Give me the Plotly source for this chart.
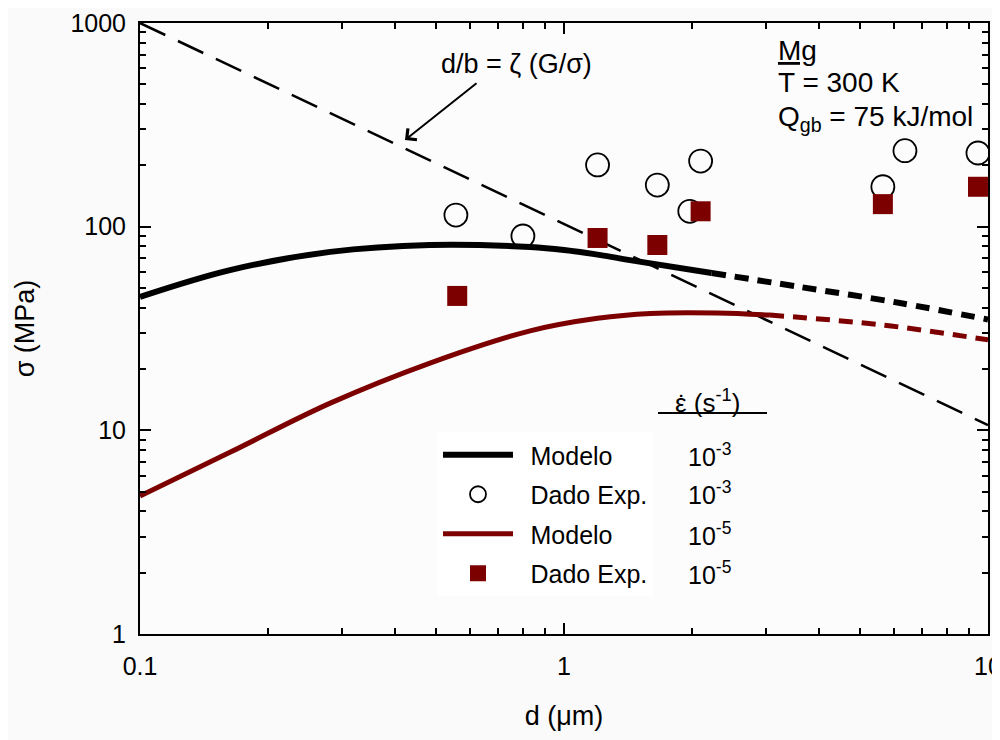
import plotly.graph_objects as go

# ---- data ----
# Model, strain rate 1e-3 (black): solid and dashed (extrapolated) parts
model3_solid_d = [0.1, 0.163, 0.281, 0.483, 0.832, 1.0, 1.22, 1.43, 2.23]
model3_solid_s = [45.2, 61.2, 75.2, 81.3, 79.4, 76.8, 72.5, 68.5, 59.2]
model3_dash_d = [2.23, 3.6, 6.2, 10]
model3_dash_s = [59.2, 50.6, 42.2, 35.0]

# Model, strain rate 1e-5 (dark red)
model5_solid_d = [0.1, 0.163, 0.281, 0.483, 0.832, 1.2, 1.6, 2.3, 3.06]
model5_solid_s = [4.76, 7.8, 13.6, 21.4, 30.8, 35.5, 37.5, 37.7, 36.8]
model5_dash_d = [3.06, 5.65, 10]
model5_dash_s = [36.8, 32.9, 27.8]

# Experimental data
exp3_d = [0.556, 0.80, 1.20, 1.66, 1.98, 2.10, 5.65, 6.37, 9.47]
exp3_s = [114, 90, 201, 160, 119, 210, 157, 236, 230]
exp5_d = [0.56, 1.20, 1.66, 2.10, 5.65, 9.47]
exp5_s = [45.7, 88, 81.3, 119, 129, 157]

# d/b = zeta (G/sigma) boundary line
bound_d = [0.1, 10]
bound_s = [1000, 10.6]

rate_labels = ["10<sup>-3</sup>", "10<sup>-3</sup>", "10<sup>-5</sup>", "10<sup>-5</sup>"]

BLACK = "#000000"
RED = "#7d0000"
FONT = "Liberation Sans, Arial, sans-serif"
SP = "\u2002"

fig = go.Figure()
fig.add_trace(go.Scatter(x=model3_dash_d, y=model3_dash_s, mode="lines", showlegend=False,
                         line=dict(color=BLACK, width=6, dash="14px,9px", shape="spline")))
fig.add_trace(go.Scatter(x=model5_dash_d, y=model5_dash_s, mode="lines", showlegend=False,
                         line=dict(color=RED, width=5, dash="14px,9px", shape="spline")))
fig.add_trace(go.Scatter(x=bound_d, y=bound_s, mode="lines", showlegend=False,
                         line=dict(color=BLACK, width=2.5, dash="28px,14px")))
fig.add_trace(go.Scatter(x=model3_solid_d, y=model3_solid_s, mode="lines", name=SP + "Modelo",
                         legendgroup="g1", line=dict(color=BLACK, width=6, shape="spline", smoothing=1)))
fig.add_trace(go.Scatter(x=exp3_d, y=exp3_s, mode="markers", name=SP + "Dado Exp.", legendgroup="g2",
                         marker=dict(symbol="circle-open", size=23, color=BLACK, line=dict(width=1.8))))
fig.add_trace(go.Scatter(x=model5_solid_d, y=model5_solid_s, mode="lines", name=SP + "Modelo",
                         legendgroup="g3", line=dict(color=RED, width=5, shape="spline", smoothing=1)))
fig.add_trace(go.Scatter(x=exp5_d, y=exp5_s, mode="markers", name=SP + "Dado Exp.", legendgroup="g4",
                         marker=dict(symbol="square", size=20, color=RED)))

# target plot-area edges on screen (page body adds an 8px offset)
L, R, T, B = 140, 988, 23, 634
OFF = 8
def px(x):
    return (x - L) / (R - L)
def py(y):
    return (B - y) / (B - T)

axis_common = dict(type="log", showline=True, linecolor=BLACK, linewidth=2, mirror="ticks",
                   ticks="inside", ticklen=11, tickwidth=1.5, tickcolor=BLACK,
                   minor=dict(ticks="inside", ticklen=6, tickwidth=1.5, tickcolor=BLACK, dtick="D1", showgrid=False),
                   showgrid=False, zeroline=False, automargin=False,
                   tickfont=dict(family=FONT, size=25, color=BLACK))

fig.update_xaxes(range=[-1, 1], tickmode="array", tickvals=[0.1, 1, 10], ticktext=["0.1", "1", "10"],
                 ticklabelstandoff=9,
                 title=dict(text="d (\u03bcm)", font=dict(family=FONT, size=27, color=BLACK), standoff=27),
                 **axis_common)
fig.update_yaxes(range=[0, 3], tickmode="array", tickvals=[1, 10, 100, 1000], ticktext=["1", "10", "100", "1000"],
                 ticklabelstandoff=7,
                 title=dict(text="\u03c3 (MPa)", font=dict(family=FONT, size=27, color=BLACK), standoff=28),
                 **axis_common)

ann = []
ann.append(dict(xref="paper", yref="paper", x=px(673), y=py(401), text="\u03b5 (s<sup>-1</sup>)",
                showarrow=False, xanchor="left", yanchor="middle", font=dict(size=26)))
ann.append(dict(xref="paper", yref="paper", x=px(682), y=py(405), text="\u02d9",
                showarrow=False, xanchor="center", yanchor="middle", font=dict(size=26)))
for i, lab in enumerate(rate_labels):
    ann.append(dict(xref="paper", yref="paper", x=px(686), y=py([455, 493, 534, 573][i]), text=lab,
                    showarrow=False, xanchor="left", yanchor="middle", font=dict(size=25)))
ann.append(dict(xref="paper", yref="paper", x=px(776), y=py(50), text="<u>Mg</u>", showarrow=False,
                xanchor="left", yanchor="middle", font=dict(size=28)))
ann.append(dict(xref="paper", yref="paper", x=px(776), y=py(83), text="T = 300 K", showarrow=False,
                xanchor="left", yanchor="middle", font=dict(size=28)))
ann.append(dict(xref="paper", yref="paper", x=px(776), y=py(119), text="Q<sub>gb</sub> = 75 kJ/mol", showarrow=False,
                xanchor="left", yanchor="middle", font=dict(size=28)))
ann.append(dict(xref="paper", yref="paper", x=px(516), y=py(64), text="d/b = \u03b6 (G/\u03c3)", showarrow=False,
                xanchor="center", yanchor="middle", font=dict(size=27)))
ann.append(dict(xref="paper", yref="paper", x=px(405), y=py(140), text="", showarrow=True,
                axref="pixel", ayref="pixel", ax=73, ay=-58, arrowhead=4, arrowsize=1.4, arrowwidth=2,
                arrowcolor=BLACK, standoff=0, startstandoff=0))

fig.update_layout(
    width=1000, height=740,
    margin=dict(l=L - OFF, r=1000 - (R - OFF), t=T - OFF, b=740 - (B - OFF)),
    paper_bgcolor="#fafafa", plot_bgcolor="#fcfcfc",
    font=dict(family=FONT, size=25, color=BLACK),
    annotations=ann,
    shapes=[dict(type="line", xref="paper", yref="paper", x0=px(658), x1=px(767), y0=py(413), y1=py(413),
                 line=dict(color=BLACK, width=2))],
    legend=dict(x=px(438), y=py(432), xanchor="left", yanchor="top", bgcolor="rgba(255,255,255,1)",
                font=dict(family=FONT, size=25, color=BLACK), tracegroupgap=4, itemwidth=70,
                traceorder="grouped"),
)

fig.write_html("out.html")
